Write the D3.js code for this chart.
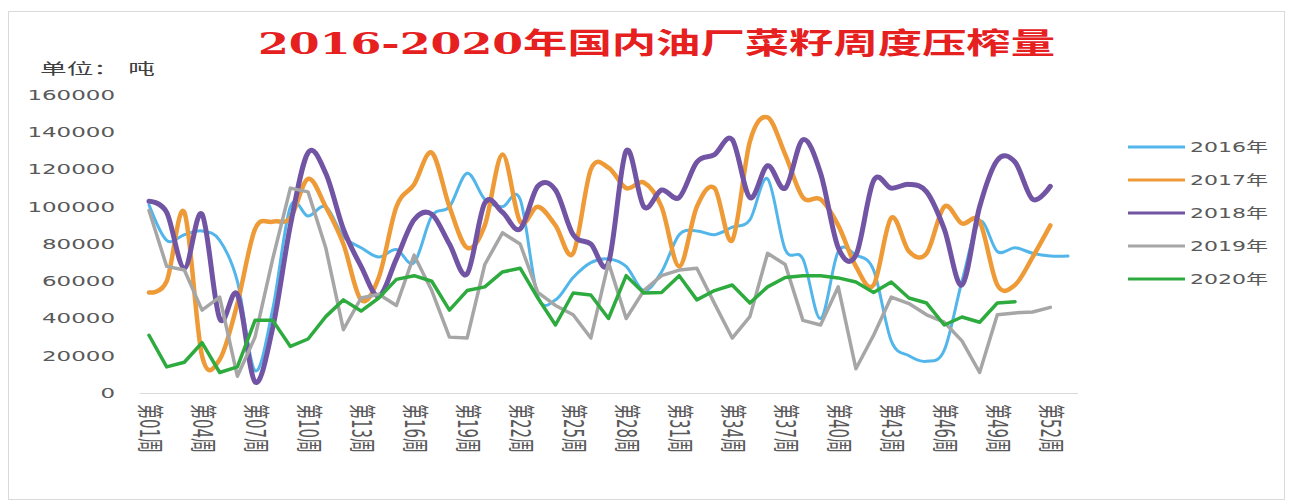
<!DOCTYPE html>
<html>
<head>
<meta charset="utf-8">
<script src="https://cdn.jsdelivr.net/npm/d3@7/dist/d3.min.js"></script>
<style>
  body { margin: 0; background: #fff; }
  text { font-family: "DejaVu Sans", "Noto Sans CJK SC", sans-serif; }
</style>
</head>
<body>
<svg id="chart" width="1294" height="501"></svg>
<script>
// weeks on the category axis
var weekLabels = ["第01周","第02周","第03周","第04周","第05周","第06周","第07周","第08周","第09周","第10周",
  "第11周","第12周","第13周","第14周","第15周","第16周","第17周","第18周","第19周","第20周",
  "第21周","第22周","第23周","第24周","第25周","第26周","第27周","第28周","第29周","第30周",
  "第31周","第32周","第33周","第34周","第35周","第36周","第37周","第38周","第39周","第40周",
  "第41周","第42周","第43周","第44周","第45周","第46周","第47周","第48周","第49周","第50周",
  "第51周","第52周","第53周"];

var yTicks = [0, 20000, 40000, 60000, 80000, 100000, 120000, 140000, 160000];

var seriesNames = ["2016年", "2017年", "2018年", "2019年", "2020年"];

// weekly crush volume, tonnes
var s2016 = [101000, 82000, 85000, 87000, 82000, 60000, 12000, 45000, 100000, 95000,
  100000, 84000, 78000, 73000, 77000, 70000, 95000, 100000, 118000, 104000,
  100000, 104000, 52000, 50000, 62000, 70000, 72000, 68000, 55000, 65000,
  85000, 87000, 85000, 89000, 93000, 115000, 77000, 72000, 40000, 76000,
  74000, 66000, 28000, 20000, 17000, 23000, 60000, 92000, 76000, 78000,
  75000, 73500, 73500];

var s2017 = [54000, 60000, 97000, 20000, 18000, 48000, 88000, 92000, 94000, 115000,
  100000, 80000, 50000, 62000, 100000, 112000, 129000, 100000, 78000, 90000,
  128000, 92000, 100000, 90000, 75000, 120000, 121000, 110000, 113000, 100000,
  68000, 100000, 110000, 82000, 135000, 148000, 128000, 105000, 104000, 90000,
  68000, 58000, 94000, 76000, 75000, 100000, 91000, 92000, 58000, 58000,
  73000, 90000];

var s2018 = [103000, 97000, 67000, 96000, 40000, 53000, 6000, 35000, 90000, 129000,
  118000, 88000, 68000, 52000, 72000, 93000, 96000, 80000, 64000, 102000,
  97000, 88000, 111000, 109000, 85000, 80000, 70000, 130000, 100000, 109000,
  105000, 124000, 128000, 136000, 105000, 122000, 110000, 136000, 118000, 78000,
  74000, 114000, 110000, 112000, 108000, 88000, 58000, 100000, 125000, 124000,
  104000, 111000];

var s2019 = [98000, 68000, 66000, 44500, 51500, 9000, 30000, 72000, 110000, 108000,
  78000, 34000, 51000, 53000, 47000, 74000, 55000, 30000, 29500, 69000,
  86000, 80000, 54000, 47000, 42000, 29500, 70000, 40000, 55000, 63000,
  66000, 67000, 48000, 29500, 41000, 75000, 69000, 39000, 36500, 57000,
  13000, 31000, 51500, 48000, 42000, 38000, 28000, 11000, 42000, 43000,
  43500, 46000];

var s2020 = [31000, 14000, 16500, 27000, 11000, 14000, 39000, 39000, 25000, 29000,
  41000, 50000, 44000, 51000, 61000, 63000, 60000, 44500, 55000, 57000,
  65000, 67000, 51000, 36500, 53700, 52600, 40000, 63000, 53700, 54000,
  63000, 50000, 55000, 58000, 48300, 57000, 62000, 63000, 63000, 61800,
  59600, 54000, 59600, 51000, 48300, 36500, 40800, 38000, 48300, 49000];

var seriesData = [s2016, s2017, s2018, s2019, s2020];
var colors = ["#52b6ea", "#ee9a36", "#7254a4", "#a6a6a6", "#2eab3e"];
var widths = [3, 4.5, 5, 3.5, 3.5];
var smooth = [true, true, true, false, false];

var svg = d3.select("#chart");

// outer frame
svg.append("rect")
    .attr("x", 8.5).attr("y", 11.5)
    .attr("width", 1276).attr("height", 488)
    .attr("fill", "#fff")
    .attr("stroke", "#d9d9d9");

// title
svg.append("text")
    .attr("x", 258).attr("y", 54)
    .attr("textLength", 797)
    .attr("lengthAdjust", "spacingAndGlyphs")
    .style("font-family", "'DejaVu Serif', 'Noto Sans CJK SC', serif")
    .style("font-size", "29px")
    .style("font-weight", "bold")
    .style("fill", "#e5201f")
    .text("2016-2020年国内油厂菜籽周度压榨量");

svg.append("text")
    .attr("x", 40).attr("y", 74)
    .attr("textLength", 115)
    .attr("lengthAdjust", "spacingAndGlyphs")
    .style("font-size", "15px")
    .style("fill", "#404040")
    .text("单位： 吨");

var x = d3.scalePoint().domain(weekLabels).range([149, 1068]);
var y = d3.scaleLinear().domain([0, 160000]).range([393, 95]);

// y axis labels
var yAxis = d3.axisLeft(y).tickValues(yTicks).tickSize(0).tickPadding(0).tickFormat(d3.format("d"));
var gy = svg.append("g").attr("transform", "translate(115,0)").call(yAxis);
gy.select(".domain").remove();
gy.selectAll("text")
    .attr("textLength", function(d) { return String(d).length * 14.6; })
    .attr("lengthAdjust", "spacingAndGlyphs")
    .style("font-size", "14px")
    .style("font-family", "'DejaVu Sans', sans-serif")
    .style("fill", "#595959");

// bottom axis line
svg.append("line")
    .attr("x1", 140).attr("x2", 1078)
    .attr("y1", y(0) + 0.5).attr("y2", y(0) + 0.5)
    .attr("stroke", "#d9d9d9");

// x labels every third week, rotated
var tickLabels = weekLabels.filter(function(d, i) { return i % 3 === 0; });
svg.append("g").selectAll("text")
    .data(tickLabels)
    .enter().append("text")
    .attr("transform", function(d) { return "translate(" + x(d) + ",404) scale(1.8,1) rotate(90)"; })
    .attr("dy", "0.35em")
    .style("font-size", "15px")
    .style("fill", "#595959")
    .text(function(d) { return d; });

// lines
var plot = svg.append("g");
seriesData.forEach(function(vals, i) {
    var line = d3.line()
        .x(function(d, j) { return x(weekLabels[j]); })
        .y(function(d) { return y(d); })
        .curve(smooth[i] ? d3.curveCardinal.tension(0) : d3.curveLinear);
    plot.append("path")
        .datum(vals)
        .attr("fill", "none")
        .attr("stroke", colors[i])
        .attr("stroke-width", widths[i])
        .attr("stroke-linejoin", "round")
        .attr("stroke-linecap", "round")
        .attr("d", line);
});

// legend
var legend = svg.append("g").attr("transform", "translate(1128,147)");
seriesNames.forEach(function(name, i) {
    var row = legend.append("g").attr("transform", "translate(0," + (i * 33) + ")");
    row.append("line")
        .attr("x1", 0).attr("x2", 57)
        .attr("stroke", colors[i])
        .attr("stroke-width", 3);
    row.append("text")
        .attr("x", 62).attr("dy", "0.35em")
        .attr("textLength", 78)
        .attr("lengthAdjust", "spacingAndGlyphs")
        .style("font-size", "14px")
        .style("fill", "#595959")
        .text(name);
});
</script>
</body>
</html>
